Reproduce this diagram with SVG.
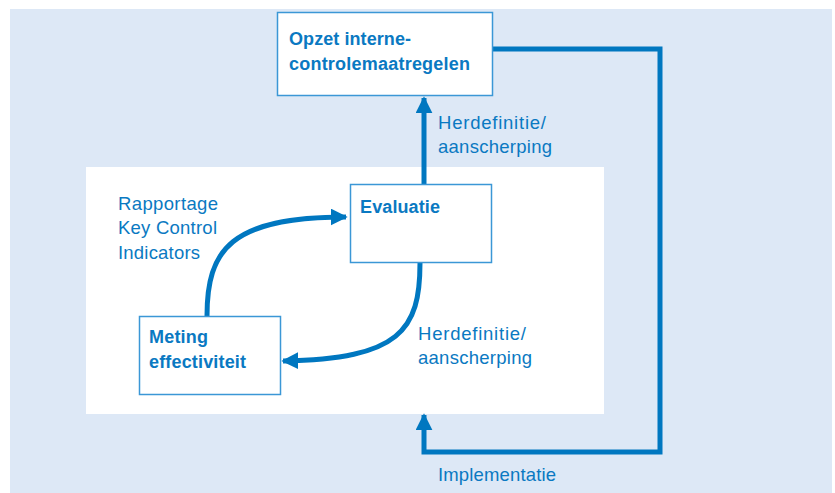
<svg xmlns="http://www.w3.org/2000/svg" width="835" height="493" viewBox="0 0 835 493">
<defs>
<style>
.box{fill:#fff;stroke:#3b97d6;stroke-width:1.5}
.t{font-family:"Liberation Sans",Arial,sans-serif;font-size:18.5px;fill:#0a79c2}
.b{font-weight:bold;font-size:18px}
.c{fill:none;stroke:#0077c0;stroke-width:5}
</style>
<marker id="ah" viewBox="0 0 10 10" refX="9" refY="5" markerWidth="3.4" markerHeight="3.4" orient="auto" markerUnits="strokeWidth">
<path d="M0,0 L10,5 L0,10 z" fill="#0077c0"/>
</marker>
</defs>
<rect x="10" y="9" width="822" height="484" fill="#dde8f6"/>
<rect x="86" y="167" width="518" height="247" fill="#fff"/>
<g id="connectors">
<path class="c" d="M493,49 H660 V452 H424 V415" marker-end="url(#ah)"/>
<path class="c" d="M424,184 V98" marker-end="url(#ah)"/>
<path class="c" d="M207,316 C207,250 230,217 346,217" marker-end="url(#ah)"/>
<path class="c" d="M420,263 C420,330 400,359 283,361" marker-end="url(#ah)"/>
</g>
<g id="opzet">
<rect class="box" x="277.5" y="12.5" width="215" height="83"/>
<text class="t b" x="289" y="45" textLength="122">Opzet interne-</text>
<text class="t b" x="289" y="70" textLength="181">controlemaatregelen</text>
</g>
<g id="evaluatie">
<rect class="box" x="350.5" y="184.5" width="141" height="78"/>
<text class="t b" x="360" y="213" textLength="80">Evaluatie</text>
</g>
<g id="meting">
<rect class="box" x="139.5" y="316.5" width="141" height="78"/>
<text class="t b" x="149" y="343" textLength="59">Meting</text>
<text class="t b" x="149" y="368" textLength="97">effectiviteit</text>
</g>
<g id="labels">
<text class="t" x="438" y="129" textLength="108">Herdefinitie/</text>
<text class="t" x="438" y="153" textLength="114">aanscherping</text>
<text class="t" x="118" y="210" textLength="100">Rapportage</text>
<text class="t" x="118" y="234" textLength="99">Key Control</text>
<text class="t" x="118" y="259" textLength="82">Indicators</text>
<text class="t" x="418" y="340" textLength="108">Herdefinitie/</text>
<text class="t" x="418" y="364" textLength="114">aanscherping</text>
<text class="t" x="438" y="481" textLength="118">Implementatie</text>
</g>
</svg>
